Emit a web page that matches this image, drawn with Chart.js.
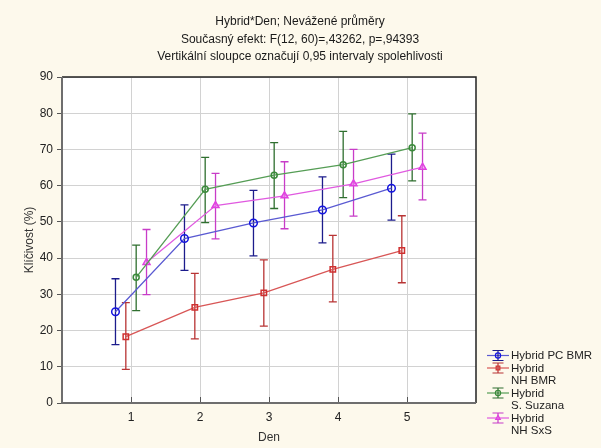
<!DOCTYPE html>
<html>
<head>
<meta charset="utf-8">
<script src="https://cdn.jsdelivr.net/npm/chart.js@4.4.1/dist/chart.umd.min.js"></script>
<style>
  html, body { margin: 0; padding: 0; background: #fdf9ec; }
  #wrap { width: 601px; height: 448px; position: relative; }
</style>
</head>
<body>
<div id="wrap"><canvas id="chart" width="601" height="448"></canvas></div>
<script>
// data
const days = [1, 2, 3, 4, 5];
const yTicks = [0, 10, 20, 30, 40, 50, 60, 70, 80, 90];

const pcBmr      = [25.2, 45.4, 49.7, 53.3, 59.3];
const pcBmrLow   = [16.1, 36.6, 40.6, 44.2, 50.5];
const pcBmrHigh  = [34.3, 54.7, 58.7, 62.4, 68.7];

const nhBmr      = [18.3, 26.4, 30.4, 36.9, 42.1];
const nhBmrLow   = [9.3, 17.7, 21.2, 27.9, 33.2];
const nhBmrHigh  = [27.7, 35.8, 39.5, 46.3, 51.7];

const suzana     = [34.7, 59.0, 62.9, 65.8, 70.5];
const suzanaLow  = [25.5, 49.8, 53.7, 56.7, 61.3];
const suzanaHigh = [43.6, 67.8, 71.9, 75.0, 79.8];

const nhSxs      = [38.8, 54.5, 57.2, 60.5, 65.1];
const nhSxsLow   = [29.9, 45.3, 48.1, 51.6, 56.1];
const nhSxsHigh  = [47.9, 63.4, 66.6, 70.0, 74.5];

const titleLines = [
  'Hybrid*Den; Nevážené průměry',
  'Současný efekt: F(12, 60)=,43262, p=,94393',
  'Vertikální sloupce označují 0,95 intervaly spolehlivosti'
];

const series = [
  { label: ['Hybrid PC BMR'], mean: pcBmr, low: pcBmrLow, high: pcBmrHigh, shift: -0.225,
    line: '#5a5ad2', bar: '#1c1c8c', mark: '#1414e0', style: 'circle', r: 3.8 },
  { label: ['Hybrid', 'NH BMR'], mean: nhBmr, low: nhBmrLow, high: nhBmrHigh, shift: -0.075,
    line: '#d85656', bar: '#b83434', mark: '#d03030', style: 'rect', r: 3.8 },
  { label: ['Hybrid', 'S. Suzana'], mean: suzana, low: suzanaLow, high: suzanaHigh, shift: 0.075,
    line: '#559d55', bar: '#2f6f2f', mark: '#3a8a3a', style: 'circle', r: 3 },
  { label: ['Hybrid', 'NH SxS'], mean: nhSxs, low: nhSxsLow, high: nhSxsHigh, shift: 0.225,
    line: '#e05ae0', bar: '#c83cc8', mark: '#e040e0', style: 'triangle', r: 4 }
];

const FONT = '"Liberation Sans", Arial, sans-serif';
const triFill = 'rgba(236,140,236,0.45)';

const datasets = series.map(s => ({
  label: s.label.join(' '),
  data: s.mean.map((v, i) => ({ x: days[i] + s.shift, y: v })),
  borderColor: s.line,
  borderWidth: 1.3,
  pointStyle: s.style,
  pointRadius: s.r,
  pointBorderWidth: 1.5,
  pointBorderColor: s.mark,
  pointBackgroundColor: s.style === 'triangle' ? triFill : 'rgba(255,255,255,0)',
  tension: 0,
  clip: false
}));

const frame = {
  id: 'frame',
  beforeDraw(chart) {
    const { ctx, chartArea: a } = chart;
    ctx.save();
    ctx.fillStyle = '#ffffff';
    ctx.fillRect(a.left, a.top, a.right - a.left, a.bottom - a.top);
    ctx.restore();
  },
  beforeDatasetsDraw(chart) {
    const { ctx } = chart;
    const y = chart.scales.y;
    ctx.save();
    series.forEach((s, di) => {
      const meta = chart.getDatasetMeta(di);
      ctx.strokeStyle = s.bar;
      ctx.lineWidth = 1.3;
      meta.data.forEach((pt, i) => {
        const yl = y.getPixelForValue(s.low[i]);
        const yh = y.getPixelForValue(s.high[i]);
        ctx.beginPath();
        ctx.moveTo(pt.x, yl); ctx.lineTo(pt.x, yh);
        ctx.moveTo(pt.x - 4, yl); ctx.lineTo(pt.x + 4, yl);
        ctx.moveTo(pt.x - 4, yh); ctx.lineTo(pt.x + 4, yh);
        ctx.stroke();
      });
    });
    ctx.restore();
  },
  afterDraw(chart) {
    const { ctx, chartArea: a } = chart;
    const x = chart.scales.x;
    ctx.save();
    // x ticks pointing inward
    ctx.strokeStyle = '#555';
    ctx.lineWidth = 1;
    days.forEach(d => {
      const px = Math.round(x.getPixelForValue(d)) + 0.5;
      ctx.beginPath(); ctx.moveTo(px, a.bottom); ctx.lineTo(px, a.bottom - 6); ctx.stroke();
    });
    // frame
    ctx.strokeStyle = '#222';
    ctx.lineWidth = 1.5;
    ctx.beginPath();
    ctx.moveTo(a.left, a.top); ctx.lineTo(a.right, a.top); ctx.lineTo(a.right, a.bottom);
    ctx.stroke();
    ctx.strokeStyle = '#6e6e6e';
    ctx.lineWidth = 2;
    ctx.beginPath();
    ctx.moveTo(a.left, a.top); ctx.lineTo(a.left, a.bottom); ctx.lineTo(a.right, a.bottom);
    ctx.stroke();

    // titles
    ctx.fillStyle = '#1a1a1a';
    ctx.font = '12px ' + FONT;
    ctx.textAlign = 'center';
    ctx.textBaseline = 'middle';
    titleLines.forEach((t, i) => ctx.fillText(t, 300, 22 + i * 17.5));

    // axis titles
    ctx.fillStyle = '#333';
    ctx.fillText('Den', (a.left + a.right) / 2, 438);
    ctx.translate(30, (a.top + a.bottom) / 2);
    ctx.rotate(-Math.PI / 2);
    ctx.fillText('Klíčivost (%)', 0, 0);
    ctx.setTransform(1, 0, 0, 1, 0, 0);

    // legend
    let ly = 355.5;
    ctx.textAlign = 'left';
    ctx.font = '11.5px ' + FONT;
    series.forEach(s => {
      const cx = 498;
      ctx.strokeStyle = s.line;
      ctx.lineWidth = 1.2;
      ctx.beginPath(); ctx.moveTo(487, ly); ctx.lineTo(509, ly); ctx.stroke();
      ctx.strokeStyle = s.bar;
      ctx.beginPath();
      ctx.moveTo(cx, ly - 5); ctx.lineTo(cx, ly + 5);
      ctx.moveTo(cx - 5.5, ly - 5); ctx.lineTo(cx + 5.5, ly - 5);
      ctx.moveTo(cx - 5.5, ly + 5); ctx.lineTo(cx + 5.5, ly + 5);
      ctx.stroke();
      ctx.strokeStyle = s.mark;
      ctx.fillStyle = s.style === 'triangle' ? triFill : 'rgba(255,255,255,0)';
      ctx.lineWidth = 1.2;
      Chart.helpers.drawPoint(ctx, { pointStyle: s.style, radius: 2.6, borderWidth: 1.2 }, cx, ly);
      ctx.fillStyle = '#222';
      s.label.forEach(t => { ctx.fillText(t, 511, ly + 0.5); ly += 12.5; });
    });
    ctx.restore();
  }
};

new Chart(document.getElementById('chart'), {
  type: 'line',
  data: { datasets },
  options: {
    responsive: false,
    animation: false,
    layout: { padding: { left: 0, top: 77, right: 125, bottom: 0 } },
    plugins: { legend: { display: false }, title: { display: false }, tooltip: { enabled: false } },
    scales: {
      x: {
        type: 'linear',
        min: 0, max: 6,
        afterBuildTicks: sc => { sc.ticks = days.map(v => ({ value: v })); },
        afterFit: sc => { sc.height = 45; },
        grid: { color: '#d2d2d2', lineWidth: 1, drawTicks: false },
        border: { display: false },
        ticks: { padding: 7, color: '#222', font: { family: FONT, size: 12 } }
      },
      y: {
        min: 0, max: 90,
        afterBuildTicks: sc => { sc.ticks = yTicks.map(v => ({ value: v })); },
        afterFit: sc => { sc.width = 62; },
        grid: { color: '#d2d2d2', lineWidth: 1, tickColor: '#555', tickLength: 5 },
        border: { display: false },
        ticks: { padding: 4, color: '#222', font: { family: FONT, size: 12 } }
      }
    }
  },
  plugins: [frame]
});
</script>
</body>
</html>
